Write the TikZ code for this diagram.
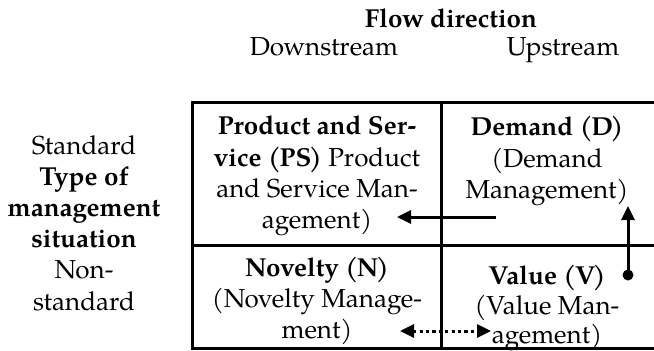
\documentclass[tikz,border=0pt]{standalone}
\usepackage{fontspec}
\setmainfont{texgyrepagella}[Extension=.otf, UprightFont=*-regular, BoldFont=*-bold, ItalicFont=*-italic, BoldItalicFont=*-bolditalic]
\usetikzlibrary{arrows.meta}
% bold abbreviation in tightly set parentheses
\newcommand{\abbr}[1]{(\kern-0.6pt#1\kern-1.2pt)}
\begin{document}
\begin{tikzpicture}[x=0.5pt,y=-0.5pt,
  every node/.style={inner sep=0pt, font=\fontsize{13}{15.6}\selectfont},
  cell/.style={align=center, anchor=center},
  head/.style={anchor=base},
  rule/.style={line width=1.5pt},
  flow/.style={line width=1.5pt, -{Triangle[length=7pt,width=6.5pt]}},
  dflow/.style={line width=1.5pt, dash pattern=on 1.6pt off 1.6pt,
    {Triangle[length=7pt,width=6.5pt]}-{Triangle[length=7pt,width=6.5pt]}},
]
\useasboundingbox (0,0) rectangle (654,350);

% table grid (right edge runs off the page)
\draw[rule] (664,102) -- (192,102) -- (192,348) -- (664,348);
\draw[rule] (192,245) -- (664,245);
\draw[rule] (441,102) -- (441,348);

% column headings
\node[head, font=\fontsize{13}{15.6}\selectfont\bfseries] (flowdir) at (451,27) {Flow direction};
\node[head] (down) at (324,55) {Downstream};
\node[head] (up) at (563,55) {Upstream};

% row heading
\node[cell] (type) at (84,223) {Standard\\\textbf{Type of}\\\textbf{management}\\\textbf{situation}\\Non-\\standard};

% cells
\node[cell] (ps) at (317,176) {\textbf{Product and Ser-}\\\textbf{vice \abbr{PS}} Product\\and Service Man-\\agement)};
\node[cell] (dm) at (547,161) {\textbf{Demand \abbr{D}}\\(Demand\\Management)};
\node[cell] (nv) at (317,301) {\textbf{Novelty \abbr{N}}\\(Novelty Manage-\\ment)};
\node[cell, font=\fontsize{13}{14.6}\selectfont] (vl) at (547,308) {\textbf{Value \abbr{V}}\\(Value Man-\\agement)};

% transitions
\coordinate (dmout) at (496,217);
\coordinate (psin) at (397,217);
\draw[flow] (dmout) -- (psin);

\coordinate (vlout) at (628,275);
\coordinate (dmin) at (628,206);
\draw[flow] (vlout) -- (dmin);
\fill (vlout) circle (5.5);

\coordinate (nvend) at (400,331);
\coordinate (vlend) at (491,331);
\draw[dflow] (nvend) -- (vlend);
\end{tikzpicture}
\end{document}
